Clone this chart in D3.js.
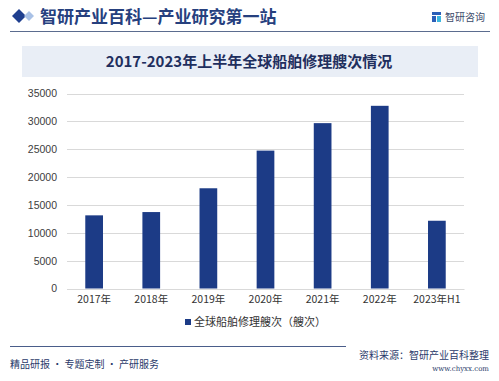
<!DOCTYPE html>
<html><head><meta charset="utf-8">
<script src="https://cdn.jsdelivr.net/npm/d3@7"></script>
<style>body{margin:0;background:#fff;}svg{display:block;}</style>
</head><body>
<svg id="c" width="499" height="381"></svg>
<script>
const categories = ["2017年","2018年","2019年","2020年","2021年","2022年","2023年H1"];
const values = [13130, 13720, 17990, 24750, 29680, 32790, 12160];
const yTicks = [0,5000,10000,15000,20000,25000,30000,35000];
const seriesName = "全球船舶修理艘次（艘次）";
const headerTitle = "智研产业百科—产业研究第一站";
const chartTitle = "2017-2023年上半年全球船舶修理艘次情况";
const footerLeft = "精品研报 · 专题定制 · 产研服务";
const sourceText = "资料来源：智研产业百科整理";
const siteText = "www.chyxx.com";
const logoText = "智研咨询";

const svg = d3.select("#c");
const W = 499, H = 381;
const sans = "'Noto Sans CJK SC','Liberation Sans',Arial,sans-serif";
const navy = "#1c3b86";

svg.append("rect").attr("width",W).attr("height",H).attr("fill","#fff");

// header
svg.append("path").attr("d","M19,9 L26,16 L19,23 L12,16 Z").attr("fill","#1f3f8f");
svg.append("path").attr("d","M29,11 L34,16 L29,21 L24,16 Z").attr("fill","#a9c1e6");
svg.append("text").attr("x",40).attr("y",23).attr("font-family",sans).attr("font-weight","bold")
  .attr("font-size",17).attr("fill","#26407e").text(headerTitle);
svg.append("line").attr("x1",10).attr("x2",490).attr("y1",31.5).attr("y2",31.5)
  .attr("stroke","#5b6c8f").attr("stroke-width",1.2);
// logo
const lg = svg.append("g").attr("transform","translate(432,12)");
lg.append("rect").attr("x",0).attr("y",0).attr("width",9).attr("height",3).attr("fill","#2b5fb8");
lg.append("rect").attr("x",0).attr("y",4).attr("width",4).attr("height",6).attr("fill","#2b5fb8");
lg.append("rect").attr("x",5).attr("y",4).attr("width",4).attr("height",6).attr("fill","#3cb8e0");
svg.append("text").attr("x",445).attr("y",21).attr("font-family",sans).attr("font-size",10)
  .attr("fill","#3a4a6a").text(logoText);

// title box
svg.append("rect").attr("x",22).attr("y",46).attr("width",456).attr("height",31).attr("fill","#e9eef6");
svg.append("text").attr("x",249).attr("y",67).attr("text-anchor","middle").attr("font-family",sans)
  .attr("font-weight","bold").attr("font-size",15).attr("fill","#1f2f5e").text(chartTitle);

// chart
const m = {l:67, r:35, t:93.5, b:92.5};
const x = d3.scaleBand().domain(categories).range([67,464]).paddingInner(0.69).paddingOuter(0.32);
const y = d3.scaleLinear().domain([0,35000]).range([288.5,93.5]);

const grid = svg.append("g");
grid.selectAll("line").data(yTicks).join("line")
  .attr("x1",67).attr("x2",464).attr("y1",d=>Math.round(y(d))+0.5).attr("y2",d=>Math.round(y(d))+0.5)
  .attr("stroke","#d9d9d9").attr("stroke-width",1);

const yAxis = svg.append("g").attr("transform","translate(67,0)")
  .call(d3.axisLeft(y).tickValues(yTicks).tickSize(0).tickPadding(10).tickFormat(d3.format("d")));
yAxis.select(".domain").remove();
yAxis.selectAll("text").attr("font-family","'Liberation Sans',Arial,sans-serif").attr("font-size",10.5).attr("fill","#404040");

svg.append("g").selectAll("rect").data(values).join("rect")
  .attr("x",(d,i)=>x(categories[i])).attr("width",x.bandwidth())
  .attr("y",d=>y(d)).attr("height",d=>y(0)-y(d)).attr("fill",navy);

const xAxis = svg.append("g").attr("transform","translate(0,289)")
  .call(d3.axisBottom(x).tickSize(0).tickPadding(7));
xAxis.select(".domain").attr("stroke","#d9d9d9");
xAxis.selectAll("text").attr("font-family",sans).attr("font-size",10.5).attr("fill","#333");

// legend
svg.append("rect").attr("x",185).attr("y",319).attr("width",6).attr("height",6).attr("fill",navy);
svg.append("text").attr("x",194).attr("y",326).attr("font-family",sans).attr("font-size",11)
  .attr("fill","#333").text(seriesName);

// footer
svg.append("line").attr("x1",10).attr("x2",346).attr("y1",346.5).attr("y2",346.5)
  .attr("stroke","#4a5d8a").attr("stroke-width",1);
svg.append("text").attr("x",10).attr("y",368).attr("font-family",sans).attr("font-size",10)
  .attr("fill","#2a3a6a").text(footerLeft);
svg.append("text").attr("x",489).attr("y",359).attr("text-anchor","end").attr("font-family",sans)
  .attr("font-size",10).attr("fill","#2a3a6a").text(sourceText);
svg.append("text").attr("x",489).attr("y",371).attr("text-anchor","end").attr("font-family","'DejaVu Serif','Liberation Serif',serif")
  .attr("font-size",7).attr("fill","#2a3a6a").text(siteText);
</script>
</body></html>
